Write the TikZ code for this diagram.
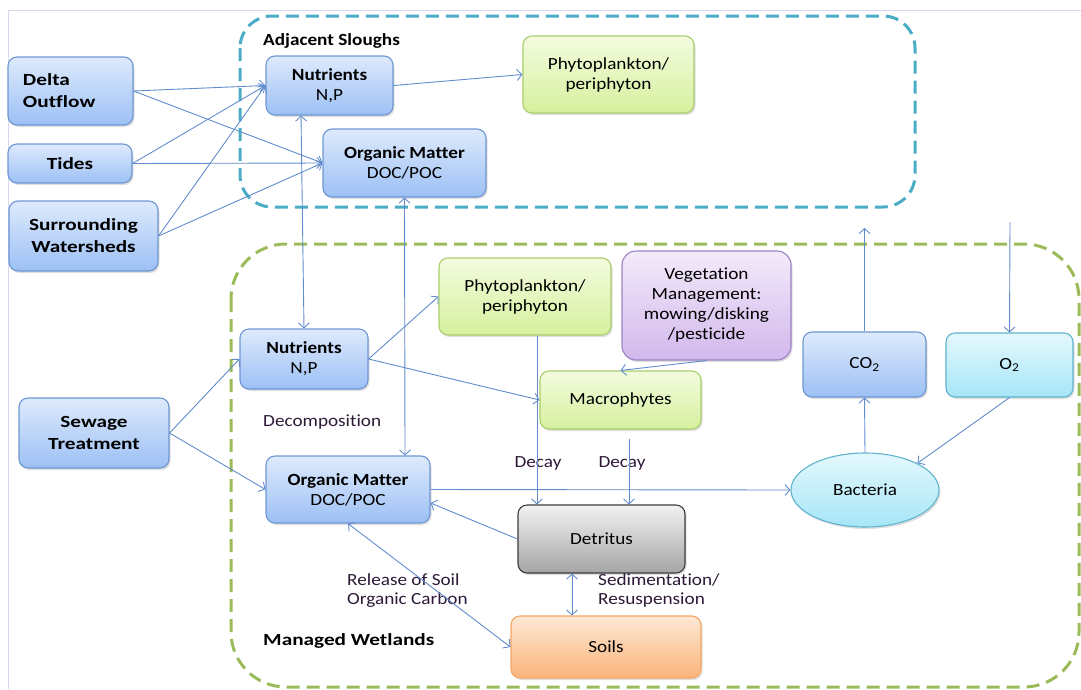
\documentclass[tikz,border=0pt]{standalone}
\usepackage{fontspec}
\setmainfont{Carlito}[FakeStretch=1.13, Ligatures=NoCommon]
\newfontfamily\widefont{Carlito}[FakeStretch=1.25, Ligatures=NoCommon]
\usetikzlibrary{arrows.meta,shapes.geometric,shadows}
\definecolor{arrowc}{RGB}{96,140,205}
\definecolor{bluedash}{RGB}{75,172,198}
\definecolor{greendash}{RGB}{155,187,89}
\definecolor{frame}{RGB}{214,214,236}
\definecolor{blueline}{RGB}{110,150,210}
\definecolor{bluetop}{RGB}{222,234,252}
\definecolor{bluebot}{RGB}{156,192,245}
\definecolor{greenline}{RGB}{170,205,110}
\definecolor{greentop}{RGB}{243,252,222}
\definecolor{greenbot}{RGB}{214,240,158}
\definecolor{purpline}{RGB}{155,130,195}
\definecolor{purptop}{RGB}{243,234,250}
\definecolor{purpbot}{RGB}{210,184,236}
\definecolor{cyanline}{RGB}{95,180,205}
\definecolor{cyantop}{RGB}{228,248,253}
\definecolor{cyanbot}{RGB}{166,230,247}
\definecolor{grayline}{RGB}{60,60,60}
\definecolor{graytop}{RGB}{242,242,242}
\definecolor{graybot}{RGB}{165,165,165}
\definecolor{orangeline}{RGB}{245,165,100}
\definecolor{orangetop}{RGB}{253,232,212}
\definecolor{orangebot}{RGB}{251,180,122}
\definecolor{labelc}{RGB}{45,25,55}
\tikzset{
  x=1pt, y=-1pt,
  basebox/.style={rounded corners=9pt, line width=1.1pt, align=center,
    inner sep=2pt, font=\fontsize{17}{20}\selectfont,
    drop shadow={opacity=0.25, shadow xshift=1.5pt, shadow yshift=-2pt}},
  bluebox/.style={basebox, draw=blueline, top color=bluetop, bottom color=bluebot},
  greenbox/.style={basebox, draw=greenline, top color=greentop, bottom color=greenbot},
  purpbox/.style={basebox, draw=purpline, top color=purptop, bottom color=purpbot},
  cyanbox/.style={basebox, draw=cyanline, top color=cyantop, bottom color=cyanbot},
  graybox/.style={basebox, draw=grayline, top color=graytop, bottom color=graybot},
  orangebox/.style={basebox, draw=orangeline, top color=orangetop, bottom color=orangebot},
  srcbox/.style={bluebox, font=\widefont\bfseries\fontsize{17}{22}\selectfont},
  conn/.style={draw=arrowc, line width=0.9pt, -{Straight Barb[length=5pt,width=11pt]}},
  biconn/.style={draw=arrowc, line width=0.9pt, {Straight Barb[length=5pt,width=11pt]}-{Straight Barb[length=5pt,width=11pt]}},
  lbl/.style={text=labelc, font=\fontsize{17}{19}\selectfont, align=left, inner sep=0pt},
  region/.style={line width=3pt, dash pattern=on 13pt off 7pt},
}
\begin{document}
\begin{tikzpicture}
\useasboundingbox (0,0) rectangle (1081,689);
\draw[frame, line width=1pt] (8.5,689) -- (8.5,10.5) -- (1081,10.5);
% regions
\draw[region, bluedash, rounded corners=32pt] (240,16) rectangle (915,207);
\draw[region, greendash, rounded corners=55pt] (231,244) rectangle (1079,687);
% region labels
\node[lbl, anchor=west, text=black, font=\bfseries\fontsize{17}{19}\selectfont] (adj) at (263,41) {Adjacent Sloughs};
\node[lbl, anchor=west, text=black, font=\widefont\bfseries\fontsize{17}{19}\selectfont] (mw) at (263,641) {Managed Wetlands};
% source boxes
\node[srcbox, minimum width=125pt, minimum height=68pt, text width=95pt, inner xsep=15pt, align=left] (delta) at (70.5,91) {Delta\\Outflow};
\node[srcbox, minimum width=124pt, minimum height=39pt] (tides) at (70,163.5) {Tides};
\node[srcbox, minimum width=149pt, minimum height=70pt] (sur) at (83.5,236) {Surrounding\\Watersheds};
\node[srcbox, minimum width=150pt, minimum height=70pt] (sew) at (94,433) {Sewage\\Treatment};
% adjacent sloughs
\node[bluebox, minimum width=127pt, minimum height=59pt] (nut1) at (329.5,85.5) {\textbf{Nutrients}\\N,P};
\node[bluebox, minimum width=163pt, minimum height=68pt] (om1) at (404.5,163) {\textbf{Organic Matter}\\DOC/POC};
\node[greenbox, minimum width=171pt, minimum height=77pt] (phy1) at (608.5,74.5) {Phytoplankton/\\periphyton};
% managed wetlands
\node[bluebox, minimum width=128pt, minimum height=60pt] (nut2) at (304,359) {\textbf{Nutrients}\\N,P};
\node[bluebox, minimum width=164pt, minimum height=67pt] (om2) at (348,489.5) {\textbf{Organic Matter}\\DOC/POC};
\node[greenbox, minimum width=172pt, minimum height=77pt] (phy2) at (525,296.5) {Phytoplankton/\\periphyton};
\node[purpbox, minimum width=169pt, minimum height=109pt, rounded corners=14pt] (veg) at (706.5,305.5) {Vegetation\\Management:\\mowing/disking\\/pesticide};
\node[greenbox, minimum width=161pt, minimum height=58pt] (mac) at (620.5,400) {Macrophytes};
\node[bluebox, minimum width=123pt, minimum height=65pt] (co2) at (864.5,364.5) {CO\textsubscript{2}};
\node[cyanbox, minimum width=127pt, minimum height=64pt] (o2) at (1009.5,365) {O\textsubscript{2}};
\node[cyanbox, ellipse, minimum width=148pt, minimum height=74pt, inner sep=0pt] (bac) at (865,490) {Bacteria};
\node[graybox, minimum width=167pt, minimum height=68pt] (det) at (601.5,539) {Detritus};
\node[orangebox, minimum width=190pt, minimum height=62pt] (soil) at (606,647) {Soils};
% labels
\node[lbl, anchor=west] (decomp) at (263,422) {Decomposition};
\node[lbl] (decay1) at (538,463) {Decay};
\node[lbl] (decay2) at (622,463) {Decay};
\node[lbl, anchor=north west] (release) at (347,573) {Release of Soil\\Organic Carbon};
\node[lbl, anchor=north west] (sed) at (598,573) {Sedimentation/\\Resuspension};
% free ends
\coordinate (co2top) at (864.5,228);
\coordinate (o2top) at (1010,222);
% connectors: sources
\draw[conn] (delta.east) -- (nut1.west);
\draw[conn] (delta.east) -- (om1.west);
\draw[conn] (tides.east) -- (nut1.west);
\draw[conn] (tides.east) -- (om1.west);
\draw[conn] (sur.east) -- (nut1.west);
\draw[conn] (sur.east) -- (om1.west);
\draw[conn] (nut1.east) -- (phy1.west);
\draw[biconn] ([xshift=-28.5pt]nut1.south) -- (nut2.north);
\draw[biconn] (om1.south) -- ([xshift=57pt]om2.north);
\draw[conn] (sew.east) -- (nut2.west);
\draw[conn] (sew.east) -- (om2.west);
\draw[conn] (nut2.east) -- (phy2.west);
\draw[conn] (nut2.east) -- (mac.west);
\draw[conn] (veg.south) -- (mac.north);
\draw[conn] ([xshift=12pt]phy2.south) -- ([xshift=-64.5pt]det.north);
\draw[conn] ([xshift=8.5pt,yshift=-9pt]mac.south) -- ([xshift=27.5pt]det.north);
\draw[conn] (om2.east) -- (bac.west);
\draw[conn] (det.west) -- ([yshift=-13.5pt]om2.east);
\draw[biconn] (om2.south) -- (soil.west);
\draw[biconn] ([xshift=-29.5pt]det.south) -- ([xshift=-34pt]soil.north);
\draw[conn] (bac.north) -- (co2.south);
\draw[conn] (co2.north) -- (co2top);
\draw[conn] (o2top) -- (o2.north);
\draw[conn] (o2.south) -- (bac.27);
\end{tikzpicture}
\end{document}
